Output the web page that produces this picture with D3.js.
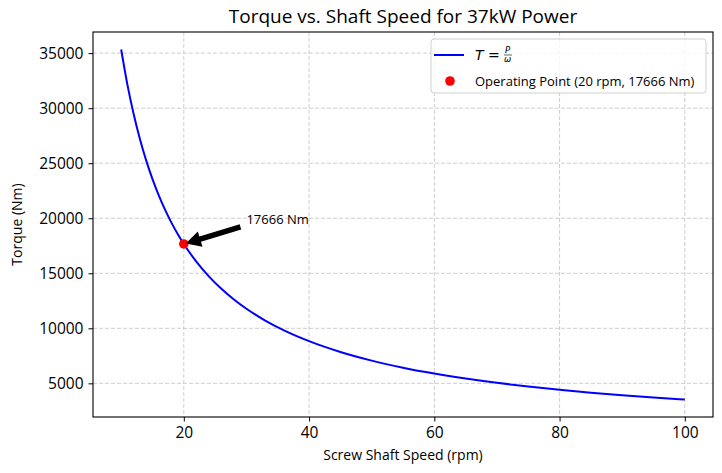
<!DOCTYPE html>
<html>
<head>
<meta charset="utf-8">
<script src="https://cdn.jsdelivr.net/npm/d3@7"></script>
<style>
  body { margin: 0; background: #fff; }
  text { font-family: "Open Sans", sans-serif; fill: #000; }
</style>
</head>
<body>
<svg id="chart" width="722" height="473"></svg>
<script>
// Values
const speedRpm = [10, 11, 12, 13, 14, 15, 16, 17, 18, 19, 20, 22, 24, 26, 28, 30, 33, 36, 40, 45, 50, 55, 60, 65, 70, 75, 80, 85, 90, 95, 100];
const torqueNm = [35332, 32120, 29443, 27178, 25237, 23555, 22083, 20784, 19629, 18596, 17666, 16060, 14722, 13589, 12618, 11777, 10707, 9814, 8833, 7852, 7066, 6424, 5889, 5436, 5047, 4711, 4417, 4157, 3926, 3719, 3533];
const opPoint = { rpm: 20, torque: 17666 };
const noteAt = { rpm: 30, torque: 19500 };
const xTicks = [20, 40, 60, 80, 100];
const yTicks = [5000, 10000, 15000, 20000, 25000, 30000, 35000];
const titleText = "Torque vs. Shaft Speed for 37kW Power";
const xLabel = "Screw Shaft Speed (rpm)";
const yLabel = "Torque (Nm)";
const pointLabel = "Operating Point (20 rpm, 17666 Nm)";
const noteText = "17666 Nm";

const margin = { top: 32, right: 9, bottom: 56, left: 93 };
const width = 722 - margin.left - margin.right;
const height = 473 - margin.top - margin.bottom;

const svg = d3.select("#chart");
const root = svg.append("g").attr("transform", `translate(${margin.left},${margin.top})`);

const x = d3.scaleLinear().domain([5.5, 104.5]).range([0, width]);
const y = d3.scaleLinear().domain([1943, 36922]).range([height, 0]);

// Grid
root.append("g")
  .selectAll("line")
  .data(xTicks)
  .enter()
  .append("line")
  .attr("x1", (d) => x(d)).attr("x2", (d) => x(d))
  .attr("y1", 0).attr("y2", height)
  .attr("stroke", "#c8c8c8").attr("stroke-width", 0.9)
  .attr("stroke-dasharray", "4,2");
root.append("g")
  .selectAll("line")
  .data(yTicks)
  .enter()
  .append("line")
  .attr("x1", 0).attr("x2", width)
  .attr("y1", (d) => y(d)).attr("y2", (d) => y(d))
  .attr("stroke", "#c8c8c8").attr("stroke-width", 0.9)
  .attr("stroke-dasharray", "4,2");

// Axes
const xAxis = root.append("g")
  .attr("transform", `translate(0,${height})`)
  .call(d3.axisBottom(x).tickValues(xTicks).tickSize(4.5).tickPadding(5).tickFormat(d3.format("d")));
const yAxis = root.append("g")
  .call(d3.axisLeft(y).tickValues(yTicks).tickSize(4.5).tickPadding(5).tickFormat(d3.format("d")));
[xAxis, yAxis].forEach((a) => {
  a.select(".domain").remove();
  a.selectAll("text").style("font-size", "15.5px").style("font-family", "'Open Sans', sans-serif");
  a.selectAll("line").attr("stroke", "#000").attr("stroke-width", 1);
});

// Frame
root.append("rect")
  .attr("width", width).attr("height", height)
  .attr("fill", "none").attr("stroke", "#000").attr("stroke-width", 1.1);

// Curve
const line = d3.line()
  .x((d, i) => x(speedRpm[i]))
  .y((d) => y(d))
  .curve(d3.curveMonotoneX);
root.append("path")
  .datum(torqueNm)
  .attr("d", line)
  .attr("fill", "none")
  .attr("stroke", "#0000ff")
  .attr("stroke-width", 2);

// Operating point
root.append("circle")
  .attr("cx", x(opPoint.rpm))
  .attr("cy", y(opPoint.torque))
  .attr("r", 4.8)
  .attr("fill", "#ff0000");

// Annotation arrow
const x0 = x(noteAt.rpm) - 6, y0 = y(noteAt.torque) + 3;
const x1 = x(opPoint.rpm) + 2, y1 = y(opPoint.torque) - 0.5;
const ang = Math.atan2(y1 - y0, x1 - x0);
const len = Math.hypot(x1 - x0, y1 - y0);
const shaftW = 5.5, headW = 16, headL = 15;
const arrowPts = [
  [0, -shaftW / 2], [len - headL, -shaftW / 2], [len - headL, -headW / 2],
  [len, 0],
  [len - headL, headW / 2], [len - headL, shaftW / 2], [0, shaftW / 2]
];
root.append("polygon")
  .attr("points", arrowPts.map((p) => p.join(",")).join(" "))
  .attr("transform", `translate(${x0},${y0}) rotate(${ang * 180 / Math.PI})`)
  .attr("fill", "#000");
root.append("text")
  .attr("x", x(noteAt.rpm))
  .attr("y", y(noteAt.torque))
  .style("font-size", "13px")
  .text(noteText);

// Labels
svg.append("text")
  .attr("x", margin.left + width / 2).attr("y", 23)
  .attr("text-anchor", "middle")
  .style("font-size", "19px")
  .text(titleText);
svg.append("text")
  .attr("x", margin.left + width / 2).attr("y", 460)
  .attr("text-anchor", "middle")
  .style("font-size", "14px")
  .text(xLabel);
svg.append("text")
  .attr("transform", `translate(22,${margin.top + height / 2}) rotate(-90)`)
  .attr("text-anchor", "middle")
  .style("font-size", "14px")
  .text(yLabel);

// Legend
const lg = svg.append("g").attr("transform", "translate(431,39)");
lg.append("rect")
  .attr("width", 275).attr("height", 54).attr("rx", 3)
  .attr("fill", "#fff").attr("fill-opacity", 0.8)
  .attr("stroke", "#d0d0d0");
lg.append("line")
  .attr("x1", 3).attr("x2", 33).attr("y1", 16).attr("y2", 16)
  .attr("stroke", "#0000ff").attr("stroke-width", 2);
const math = lg.append("text").attr("x", 44).attr("y", 21).style("font-size", "14px").style("font-family", "'DejaVu Sans', sans-serif");
math.append("tspan").style("font-style", "italic").text("T");
math.append("tspan").text(" = ");
lg.append("text").attr("x", 74).attr("y", 14).style("font-size", "8.5px").style("font-style", "italic").style("font-family", "'DejaVu Sans', sans-serif").text("P");
lg.append("line").attr("x1", 73).attr("x2", 81).attr("y1", 16).attr("y2", 16).attr("stroke", "#000").attr("stroke-width", 0.6);
lg.append("text").attr("x", 73).attr("y", 23).style("font-size", "8.5px").style("font-style", "italic").style("font-family", "'DejaVu Sans', sans-serif").text("ω");
lg.append("circle").attr("cx", 19).attr("cy", 42).attr("r", 4.8).attr("fill", "#ff0000");
lg.append("text").attr("x", 44).attr("y", 47).style("font-size", "13px").text(pointLabel);
</script>
</body>
</html>
